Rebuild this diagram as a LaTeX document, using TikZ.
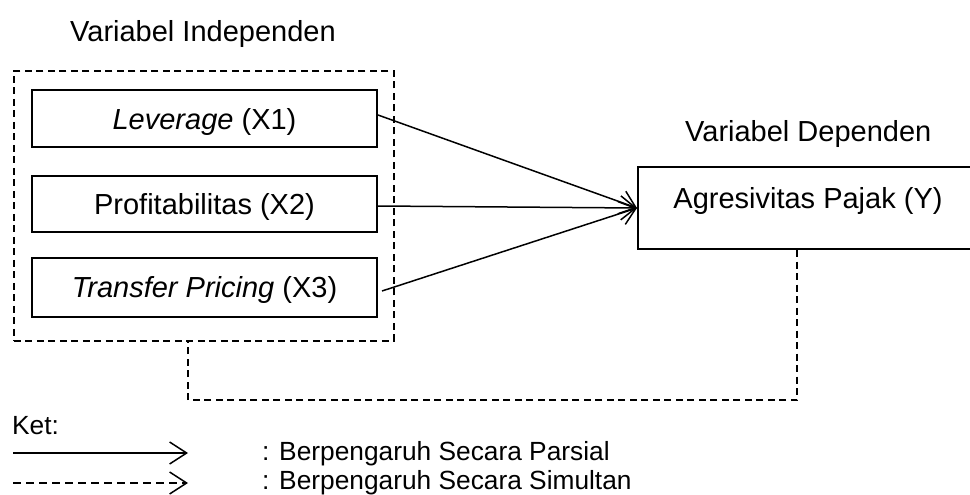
\documentclass[tikz,border=0pt]{standalone}
\usepackage{fontspec}
\setmainfont{Liberation Sans}
\usetikzlibrary{arrows.meta}
\begin{document}
\begin{tikzpicture}[x=1pt,y=-1pt,
  lbl/.style={inner sep=0pt,anchor=base west,font=\fontsize{29}{33}\selectfont},
  leg/.style={inner sep=0pt,anchor=base west,font=\fontsize{26.3}{30}\selectfont},
  varbox/.style={draw,line width=2pt,inner xsep=0pt,inner ysep=0pt,minimum width=345pt,
    text height=39pt,text depth=18pt,font=\fontsize{29}{33}\selectfont,anchor=north west},
  dsh/.style={line width=1.8pt,dash pattern=on 7pt off 4.5pt},
  arr/.style={line width=1.5pt,-{Straight Barb[length=15pt,width=24pt,line width=1.5pt]}},
  larr/.style={line width=1.5pt,-{Straight Barb[length=17pt,width=22pt,line width=1.5pt]}}
]
\useasboundingbox (0,0) rectangle (970,495);
% headers
\node[lbl] (hind) at (70,42) {Variabel Independen};
\node[lbl] (hdep) at (685,142) {Variabel Dependen};
% outer dashed group
\node[dsh,draw,minimum width=380pt,minimum height=270pt,inner sep=0pt,anchor=north west] (grp) at (13,70) {};
% independent boxes
\node[varbox] (x1) at (31,89) {\textit{Leverage} (X1)};
\node[varbox,text height=38pt,text depth=18pt] (x2) at (31,175) {Profitabilitas (X2)};
\node[varbox,text height=39pt,text depth=20pt] (x3) at (31,257) {\textit{Transfer Pricing} (X3)};
% dependent box
\node[draw,line width=2pt,inner sep=0pt,minimum width=340pt,text height=41pt,text depth=41pt,
  anchor=north west,font=\fontsize{29}{33}\selectfont] (y) at (637,166) {Agresivitas Pajak (Y)};
% partial arrows
\draw[arr] ([yshift=3.5pt]x1.east) -- (y.west);
\draw[arr] ([yshift=-2pt]x2.east) -- (y.west);
\draw[arr] ([xshift=4pt,yshift=-3.5pt]x3.east) -- (y.west);
% simultaneous dashed connector
\coordinate (d1) at (797,400);
\coordinate (d2) at (188,400);
\draw[dsh] (d1 |- y.south) -- (d1) -- (d2) -- (d2 |- grp.south);
% legend
\node[leg] (ket) at (12,434) {Ket:};
\coordinate (l1a) at (13,453);
\coordinate (l1b) at (188,453);
\coordinate (l2a) at (13,483);
\coordinate (l2b) at (188,483);
\draw[larr] (l1a) -- (l1b);
\draw[larr,dash pattern=on 8pt off 5pt] (l2a) -- (l2b);
\node[leg] (t1) at (262,460) {: Berpengaruh Secara Parsial};
\node[leg] (t2) at (262,489) {: Berpengaruh Secara Simultan};
\end{tikzpicture}
\end{document}
